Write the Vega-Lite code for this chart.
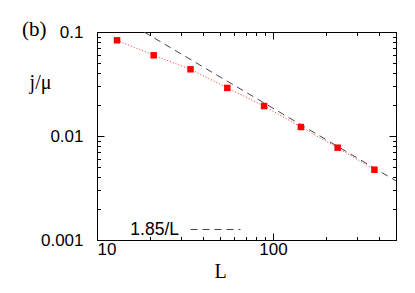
{
  "$schema": "https://vega.github.io/schema/vega-lite/v6.json",
  "autosize": "none",
  "width": 299,
  "height": 208,
  "padding": {"left": 97, "top": 32, "right": 19, "bottom": 53},
  "background": "white",
  "config": {"view": {"stroke": "black", "strokeWidth": 1}},
  "title": {"text": "(b)", "font": "Liberation Serif", "fontSize": 21, "fontWeight": "normal", "color": "black", "anchor": "start", "frame": "group", "dx": -75, "offset": -17},
  "datasets": {
    "pts": [
      {"L": 13, "j": 0.0832},
      {"L": 21, "j": 0.0597},
      {"L": 34, "j": 0.0438},
      {"L": 55, "j": 0.0290},
      {"L": 89, "j": 0.0194},
      {"L": 144, "j": 0.0122},
      {"L": 233, "j": 0.00772},
      {"L": 377, "j": 0.00474}
    ],
    "fit": [
      {"L": 18.5, "j": 0.1},
      {"L": 500, "j": 0.0037}
    ]
  },
  "resolve": {"axis": {"x": "independent", "y": "independent"}},
  "layer": [
    {
      "data": {"name": "fit"},
      "mark": {"type": "line", "strokeDash": [7, 5], "strokeWidth": 1, "clip": true},
      "encoding": {
        "x": {"field": "L", "type": "quantitative", "scale": {"type": "log", "domain": [10, 500], "nice": false},
          "axis": {"orient": "bottom", "values": [10,20,30,40,50,60,70,80,90,100,200,300,400,500],
            "labelExpr": "(datum.value==10||datum.value==100) ? datum.label : ''",
            "tickSize": {"condition": {"test": "datum.value==10||datum.value==100", "value": -7}, "value": -3.5},
            "tickColor": "black", "domain": false, "grid": false,
            "labelFont": "Liberation Sans", "labelFontSize": 17, "labelColor": "black", "labelPadding": 8,
            "title": "L", "titleFont": "Liberation Serif", "titleFontSize": 20, "titleFontWeight": "normal", "titleColor": "black",
            "titleX": 123, "titleY": 31, "titleAlign": "center", "titleBaseline": "middle"}},
        "y": {"field": "j", "type": "quantitative", "scale": {"type": "log", "domain": [0.001, 0.1], "nice": false},
          "axis": {"orient": "left", "values": [0.001,0.002,0.003,0.004,0.005,0.006,0.007,0.008,0.009,0.01,0.02,0.03,0.04,0.05,0.06,0.07,0.08,0.09,0.1],
            "format": "~g",
            "labelExpr": "(datum.value==0.001||datum.value==0.01||datum.value==0.1) ? datum.label : ''",
            "tickSize": {"condition": {"test": "datum.value==0.001||datum.value==0.01||datum.value==0.1", "value": -7}, "value": -3.5},
            "tickColor": "black", "domain": false, "grid": false,
            "labelFont": "Liberation Sans", "labelFontSize": 17, "labelColor": "black", "labelPadding": 21,
            "title": "j/μ", "titleFont": "Liberation Serif", "titleFontSize": 20, "titleFontWeight": "normal", "titleColor": "black",
            "titleAngle": 0, "titleX": -57, "titleY": 50, "titleAlign": "center", "titleBaseline": "middle"}},
        "color": {"datum": "1.85/L", "type": "nominal", "scale": {"range": ["#444444"]},
          "legend": {"orient": "none", "legendX": 93, "legendY": 172, "title": null,
            "labelFont": "Liberation Sans", "labelFontSize": 17.5, "labelColor": "black",
            "labelAlign": "right", "labelOffset": -62, "labelBaseline": "middle",
            "symbolType": "stroke", "symbolSize": 2500, "symbolStrokeWidth": 1, "symbolDash": [7, 5]}}
      }
    },
    {
      "data": {"name": "pts"},
      "mark": {"type": "line", "color": "#ff3030", "strokeDash": [1, 2], "strokeWidth": 1},
      "encoding": {
        "x": {"field": "L", "type": "quantitative",
          "axis": {"orient": "top", "values": [10,20,30,40,50,60,70,80,90,100,200,300,400,500], "labels": false, "title": null,
            "tickSize": {"condition": {"test": "datum.value==10||datum.value==100", "value": -7}, "value": -3.5},
            "tickColor": "black", "domain": false, "grid": false}},
        "y": {"field": "j", "type": "quantitative",
          "axis": {"orient": "right", "values": [0.001,0.002,0.003,0.004,0.005,0.006,0.007,0.008,0.009,0.01,0.02,0.03,0.04,0.05,0.06,0.07,0.08,0.09,0.1], "labels": false, "title": null,
            "tickSize": {"condition": {"test": "datum.value==0.001||datum.value==0.01||datum.value==0.1", "value": -7}, "value": -3.5},
            "tickColor": "black", "domain": false, "grid": false}}
      }
    },
    {
      "data": {"name": "pts"},
      "mark": {"type": "square", "color": "#ff0000", "filled": true, "opacity": 1, "size": 42},
      "encoding": {
        "x": {"field": "L", "type": "quantitative", "axis": null},
        "y": {"field": "j", "type": "quantitative", "axis": null}
      }
    }
  ]
}
